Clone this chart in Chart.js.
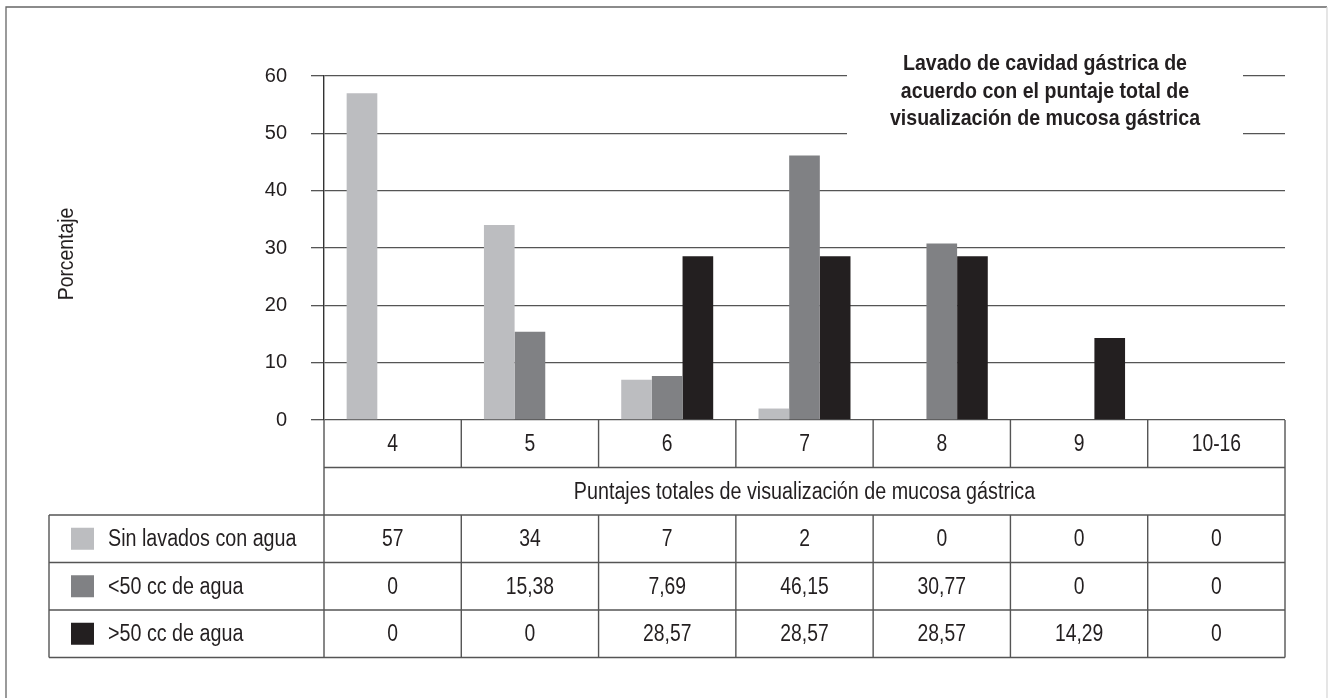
<!DOCTYPE html>
<html lang="es">
<head>
<meta charset="UTF-8">
<title>Lavado de cavidad gástrica</title>
<script src="https://cdn.jsdelivr.net/npm/chart.js"></script>
<style>
  html, body { margin: 0; padding: 0; background: #fff; }
  canvas { display: block; }
</style>
</head>
<body>
<canvas id="chart" width="1328" height="698"></canvas>
<script>
// data
const categories = ['4', '5', '6', '7', '8', '9', '10-16'];
const sinLavados = [57, 34, 7, 2, 0, 0, 0];
const menos50 = [0, 15.38, 7.69, 46.15, 30.77, 0, 0];
const mas50 = [0, 0, 28.57, 28.57, 28.57, 14.29, 0];
const seriesNames = ['Sin lavados con agua', '<50 cc de agua', '>50 cc de agua'];
const seriesColors = ['#bcbdc0', '#808184', '#231f20'];
const titleLines = ['Lavado de cavidad gástrica de', 'acuerdo con el puntaje total de', 'visualización de mucosa gástrica'];
const xTitle = 'Puntajes totales de visualización de mucosa gástrica';
const yTitle = 'Porcentaje';

const FONT = '"Liberation Sans", Arial, sans-serif';
const LINE = '#555';
const NARROW = 0.84; // the original uses a condensed face

function fmt(v) {
  return String(v).replace('.', ',');
}

// draw text squeezed horizontally
function squeezed(ctx, s, x, y, align, sx) {
  ctx.save();
  ctx.translate(x, y);
  ctx.scale(sx, 1);
  ctx.textAlign = align;
  ctx.fillText(s, 0, 0);
  ctx.restore();
}

const tablePlugin = {
  id: 'tablePlugin',
  beforeDraw(chart) {
    const ctx = chart.ctx;
    ctx.save();
    ctx.fillStyle = '#fff';
    ctx.fillRect(0, 0, chart.width, chart.height);
    // outer frame
    ctx.strokeStyle = '#666';
    ctx.lineWidth = 1.3;
    ctx.beginPath();
    ctx.moveTo(6, chart.height);
    ctx.lineTo(6, 7);
    ctx.lineTo(1327, 7);
    ctx.stroke();
    ctx.strokeStyle = '#d8d8d8';
    ctx.beginPath();
    ctx.moveTo(1327, 7);
    ctx.lineTo(1327, chart.height);
    ctx.stroke();
    ctx.restore();
  },
  afterDraw(chart) {
    const ctx = chart.ctx;
    const area = chart.chartArea;
    const xs = chart.scales.x;
    const colW = (area.right - area.left) / categories.length;
    const rowTop = area.bottom;
    const rowH = 47.5;
    const tableLeft = 49;

    ctx.save();
    // title box covering grid lines
    ctx.fillStyle = '#fff';
    ctx.fillRect(847, 40, 396, 120);
    ctx.fillStyle = '#231f20';
    ctx.font = 'bold 22px ' + FONT;
    ctx.textBaseline = 'alphabetic';
    titleLines.forEach((t, i) => squeezed(ctx, t, 1045, 70 + i * 27.5, 'center', 0.89));

    // y axis title
    ctx.save();
    ctx.translate(67, 254);
    ctx.rotate(-Math.PI / 2);
    ctx.font = '22px ' + FONT;
    ctx.textBaseline = 'middle';
    squeezed(ctx, yTitle, 0, 0, 'center', 0.88);
    ctx.restore();

    ctx.strokeStyle = LINE;
    ctx.lineWidth = 1.4;
    const yRows = [];
    for (let r = 0; r <= 5; r++) yRows.push(rowTop + r * rowH);

    ctx.beginPath();
    // horizontal lines
    ctx.moveTo(area.left, yRows[1]); ctx.lineTo(area.right, yRows[1]);
    for (let r = 2; r <= 5; r++) {
      ctx.moveTo(tableLeft, yRows[r]); ctx.lineTo(area.right, yRows[r]);
    }
    // vertical lines
    ctx.moveTo(area.left, yRows[0]); ctx.lineTo(area.left, yRows[5]);
    ctx.moveTo(tableLeft, yRows[2]); ctx.lineTo(tableLeft, yRows[5]);
    ctx.moveTo(area.right, yRows[0]); ctx.lineTo(area.right, yRows[5]);
    for (let i = 1; i < categories.length; i++) {
      const x = area.left + i * colW;
      ctx.moveTo(x, yRows[0]); ctx.lineTo(x, yRows[1]);
      ctx.moveTo(x, yRows[2]); ctx.lineTo(x, yRows[5]);
    }
    ctx.stroke();

    ctx.fillStyle = '#231f20';
    ctx.font = '23px ' + FONT;
    ctx.textBaseline = 'middle';
    categories.forEach((c, i) => {
      squeezed(ctx, c, xs.getPixelForValue(i), yRows[0] + rowH / 2 + 1, 'center', NARROW);
    });
    squeezed(ctx, xTitle, (area.left + area.right) / 2, yRows[1] + rowH / 2 + 1, 'center', 0.857);

    const rows = [sinLavados, menos50, mas50];
    rows.forEach((vals, r) => {
      const cy = yRows[2 + r] + rowH / 2 + 1;
      ctx.fillStyle = seriesColors[r];
      ctx.fillRect(71, cy - 12, 23, 22);
      ctx.fillStyle = '#231f20';
      squeezed(ctx, seriesNames[r], 108, cy, 'left', 0.857);
      vals.forEach((v, i) => squeezed(ctx, fmt(v), xs.getPixelForValue(i), cy, 'center', NARROW));
    });
    ctx.restore();
  }
};

const ctx = document.getElementById('chart').getContext('2d');
new Chart(ctx, {
  type: 'bar',
  data: {
    labels: categories,
    datasets: [
      { label: seriesNames[0], data: sinLavados, backgroundColor: seriesColors[0] },
      { label: seriesNames[1], data: menos50, backgroundColor: seriesColors[1] },
      { label: seriesNames[2], data: mas50, backgroundColor: seriesColors[2] }
    ]
  },
  options: {
    responsive: false,
    animation: false,
    layout: { padding: { left: 0, right: 43, top: 76, bottom: 278 } },
    plugins: { legend: { display: false }, tooltip: { enabled: false } },
    datasets: { bar: { barPercentage: 1, categoryPercentage: 0.67 } },
    scales: {
      x: { display: false },
      y: {
        min: 0,
        max: 60,
        ticks: {
          stepSize: 10,
          color: '#231f20',
          padding: 24,
          font: { family: FONT, size: 20 }
        },
        grid: { color: LINE, lineWidth: 1.3, tickLength: 13 },
        border: { color: '#333', width: 1.4 },
        afterFit(scale) { scale.width = 324; }
      }
    }
  },
  plugins: [tablePlugin]
});
</script>
</body>
</html>
